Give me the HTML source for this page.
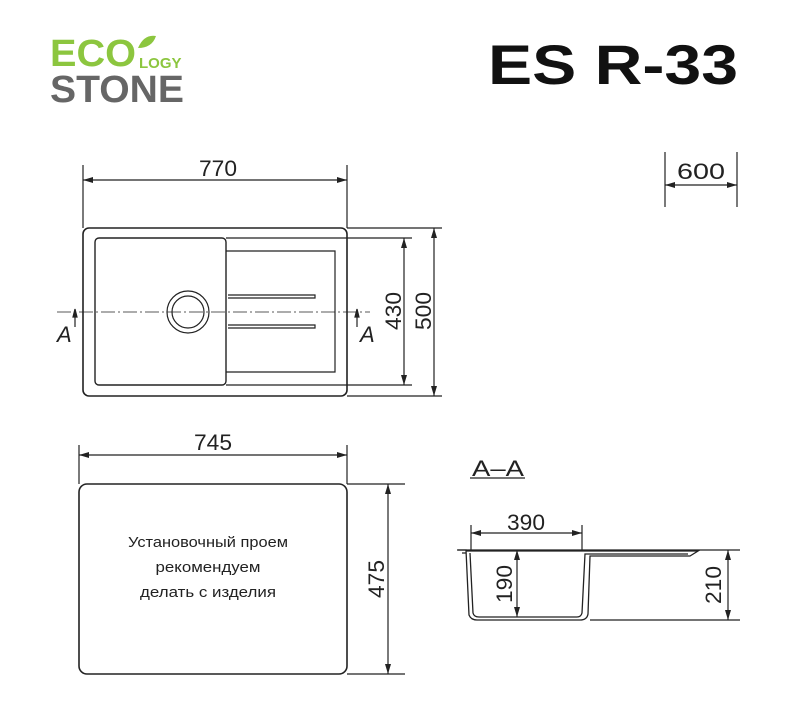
<!DOCTYPE html>
<html><head><style>body{margin:0;background:#fff}svg{display:block}</style></head><body>
<svg width="800" height="717" viewBox="0 0 800 717" xmlns="http://www.w3.org/2000/svg" font-family="'Liberation Sans',sans-serif">
<defs><marker id="a" viewBox="0 0 10 6" refX="10" refY="3" markerWidth="12" markerHeight="6" orient="auto-start-reverse" markerUnits="userSpaceOnUse"><path d="M0,0L10,3L0,6z" fill="#222"/></marker></defs>
<text x="50" y="66" font-size="38" font-weight="bold" fill="#8cc63f" textLength="86" lengthAdjust="spacingAndGlyphs">ECO</text>
<path d="M138 48 q6-14 18-12 q-4 12-18 12z" fill="#8cc63f"/>
<text x="139" y="68" font-size="15" font-weight="bold" fill="#8cc63f">LOGY</text>
<text x="50" y="102" font-size="38" font-weight="bold" fill="#666" textLength="134" lengthAdjust="spacingAndGlyphs">STONE</text>
<text x="488" y="84" font-size="56" font-weight="bold" fill="#111" textLength="250" lengthAdjust="spacingAndGlyphs">ES R-33</text>
<g stroke="#222" fill="none" stroke-width="1.2">
<rect x="83" y="228" width="264" height="168" rx="6" stroke-width="1.6"/>
<rect x="95" y="238" width="131" height="147" rx="4" stroke-width="1.4"/>
<polyline points="226,251 335,251 335,372 226,372"/>
<circle cx="188" cy="312" r="21"/><circle cx="188" cy="312" r="16"/>
<path d="M228 295h87v3h-87M228 325h87v3h-87"/>
<path d="M57 312H370" stroke-dasharray="14 3 2 3" stroke-width="0.8"/>
<path d="M83 165V228M347 165V228"/>
<path d="M83 180H347" marker-start="url(#a)" marker-end="url(#a)"/>
<path d="M226 238H412M226 385H412M347 228H442M347 396H442"/>
<path d="M404 238V385" marker-start="url(#a)" marker-end="url(#a)"/>
<path d="M434 228V396" marker-start="url(#a)" marker-end="url(#a)"/>
<path d="M75 327V311M357 327V311"/>
<path d="M75 309L73 317H77z M357 309L355 317H359z" fill="#222"/>
<path d="M665 152V207M737 152V207"/>
<path d="M665 185H737" marker-start="url(#a)" marker-end="url(#a)"/>
<rect x="79" y="484" width="268" height="190" rx="8" stroke-width="1.6"/>
<path d="M79 445V484M347 445V484"/>
<path d="M79 455H347" marker-start="url(#a)" marker-end="url(#a)"/>
<path d="M347 484H405M347 674H405"/>
<path d="M388 484V674" marker-start="url(#a)" marker-end="url(#a)"/>
<path d="M470 478H525"/>
<path d="M457 550H740M590 620H740M471 525V550M582 525V550"/>
<path d="M471 533H582" marker-start="url(#a)" marker-end="url(#a)"/>
<path d="M517 550V617" marker-start="url(#a)" marker-end="url(#a)"/>
<path d="M728 550V620" marker-start="url(#a)" marker-end="url(#a)"/>
<path d="M458 550h8l3 65q2 5 8 5h103q7 0 8-6l2-58h100l8-5H466M462 553h4M470 553l3 60q1 4 6 4h98q4 0 5-4l3-59h103" stroke-width="1.3"/>
</g>
<g fill="#222" font-size="22">
<text x="218" y="176" text-anchor="middle" textLength="38" lengthAdjust="spacingAndGlyphs">770</text>
<text x="701" y="179" text-anchor="middle" textLength="48" lengthAdjust="spacingAndGlyphs">600</text>
<text x="213" y="450" text-anchor="middle" textLength="38" lengthAdjust="spacingAndGlyphs">745</text>
<text x="498" y="476" text-anchor="middle" textLength="52" lengthAdjust="spacingAndGlyphs">A–A</text>
<text x="526" y="530" text-anchor="middle" textLength="38" lengthAdjust="spacingAndGlyphs">390</text>
<text x="57" y="342" font-style="italic">A</text>
<text x="360" y="342" font-style="italic">A</text>
<text transform="translate(401,311) rotate(-90)" text-anchor="middle" textLength="38" lengthAdjust="spacingAndGlyphs">430</text>
<text transform="translate(431,311) rotate(-90)" text-anchor="middle" textLength="38" lengthAdjust="spacingAndGlyphs">500</text>
<text transform="translate(384,579) rotate(-90)" text-anchor="middle" textLength="38" lengthAdjust="spacingAndGlyphs">475</text>
<text transform="translate(512,584) rotate(-90)" text-anchor="middle" textLength="38" lengthAdjust="spacingAndGlyphs">190</text>
<text transform="translate(721,585) rotate(-90)" text-anchor="middle" textLength="38" lengthAdjust="spacingAndGlyphs">210</text>
</g>
<g fill="#222" font-size="15" text-anchor="middle">
<text x="208" y="547" textLength="160" lengthAdjust="spacingAndGlyphs">Установочный проем</text>
<text x="208" y="572" textLength="105" lengthAdjust="spacingAndGlyphs">рекомендуем</text>
<text x="208" y="597" textLength="136" lengthAdjust="spacingAndGlyphs">делать с изделия</text>
</g>
</svg>
</body></html>
